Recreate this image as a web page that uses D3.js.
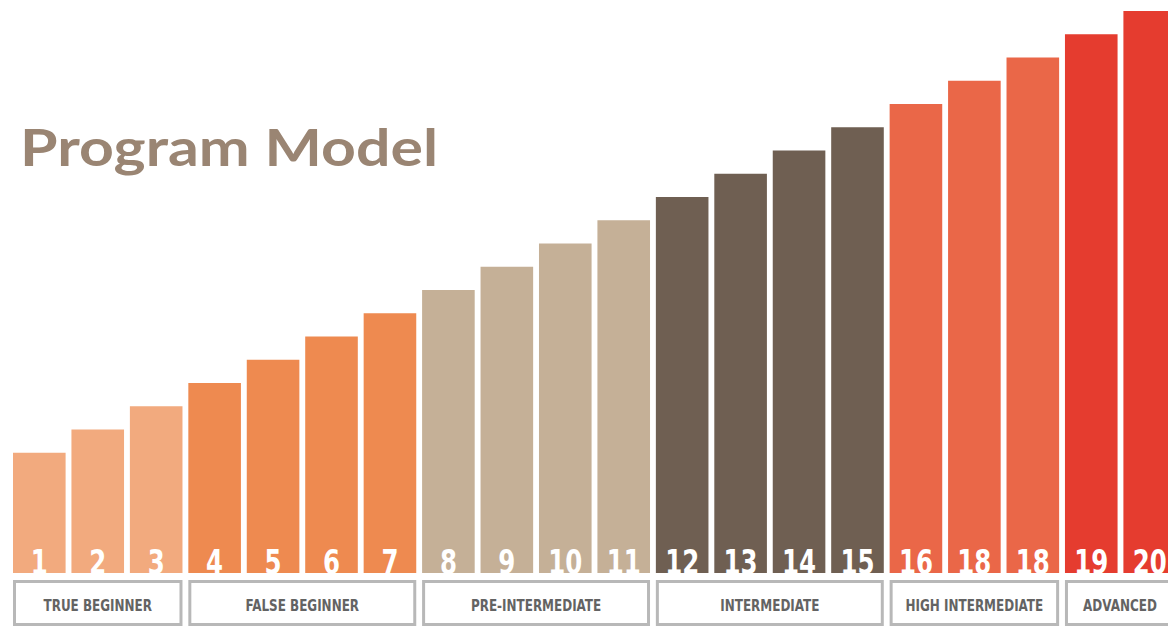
<!DOCTYPE html>
<html>
<head>
<meta charset="utf-8">
<script src="https://cdn.jsdelivr.net/npm/d3@7"></script>
<style>
  body { margin: 0; background: #fff; }
  svg { display: block; }
</style>
</head>
<body>
<svg id="chart" width="1168" height="627"></svg>
<script>
// levels in order, and the label printed on each bar (as in the picture)
var levels = [1, 2, 3, 4, 5, 6, 7, 8, 9, 10, 11, 12, 13, 14, 15, 16, 17, 18, 19, 20];
var barLabels = ["1", "2", "3", "4", "5", "6", "7", "8", "9", "10", "11", "12", "13", "14", "15", "16", "18", "18", "19", "20"];

// groups along the bottom
var groupNames = ["TRUE BEGINNER", "FALSE BEGINNER", "PRE-INTERMEDIATE", "INTERMEDIATE", "HIGH INTERMEDIATE", "ADVANCED"];
var groupSizes = [3, 4, 4, 4, 3, 2];
var groupColors = ["#f2aa7e", "#ee8a50", "#c5b097", "#6f5f52", "#ea6748", "#e53c2f"];

var svg = d3.select("#chart");

// which group each bar belongs to
var barGroup = [];
groupSizes.forEach(function (n, gi) {
  for (var k = 0; k < n; k++) barGroup.push(gi);
});

var baseY = 573;
var condensed = "'Liberation Sans Narrow', 'DejaVu Sans Condensed', 'DejaVu Sans', sans-serif";

var x = d3.scaleBand()
  .domain(levels)
  .range([13, 1176])
  .paddingInner(0.1)
  .paddingOuter(0);

var y = d3.scaleLinear()
  .domain([0, 20])
  .range([476, 11]);

// title
svg.append("text")
  .attr("x", 20)
  .attr("y", 166)
  .attr("fill", "#9a8573")
  .style("font-family", "Lato, 'Open Sans', sans-serif")
  .style("font-weight", "700")
  .style("font-size", "52px")
  .attr("textLength", 418)
  .attr("lengthAdjust", "spacingAndGlyphs")
  .text("Program Model");

// bars
svg.selectAll(".bar")
  .data(levels)
  .enter()
  .append("rect")
  .attr("class", "bar")
  .attr("x", function (d) { return x(d); })
  .attr("y", function (d) { return y(d); })
  .attr("width", x.bandwidth())
  .attr("height", function (d) { return baseY - y(d); })
  .attr("fill", function (d, i) { return groupColors[barGroup[i]]; });

// numbers on bars (narrowed to look like a condensed face)
svg.selectAll(".num")
  .data(levels)
  .enter()
  .append("text")
  .attr("class", "num")
  .attr("transform", function (d) {
    return "translate(" + (x(d) + x.bandwidth() / 2) + "," + (baseY + 1) + ") scale(0.8,1)";
  })
  .attr("text-anchor", "middle")
  .attr("fill", "#fff")
  .style("font-family", condensed)
  .style("font-weight", "700")
  .style("font-size", "34px")
  .text(function (d, i) { return barLabels[i]; });

// group boxes
var start = 0;
groupNames.forEach(function (name, gi) {
  var first = levels[start];
  var last = levels[start + groupSizes[gi] - 1];
  var x0 = x(first) + 1.5;
  var x1 = x(last) + x.bandwidth() - 1.5;
  svg.append("rect")
    .attr("x", x0)
    .attr("y", 581.5)
    .attr("width", x1 - x0)
    .attr("height", 43)
    .attr("fill", "#fff")
    .attr("stroke", "#b8b8b8")
    .attr("stroke-width", 3);
  var cx = gi === groupNames.length - 1 ? 1120 : (x0 + x1) / 2;
  svg.append("text")
    .attr("transform", "translate(" + cx + ",611) scale(0.86,1)")
    .attr("text-anchor", "middle")
    .attr("fill", "#636363")
    .style("font-family", condensed)
    .style("font-weight", "700")
    .style("font-size", "15.5px")
    .text(name);
  start += groupSizes[gi];
});
</script>
</body>
</html>
